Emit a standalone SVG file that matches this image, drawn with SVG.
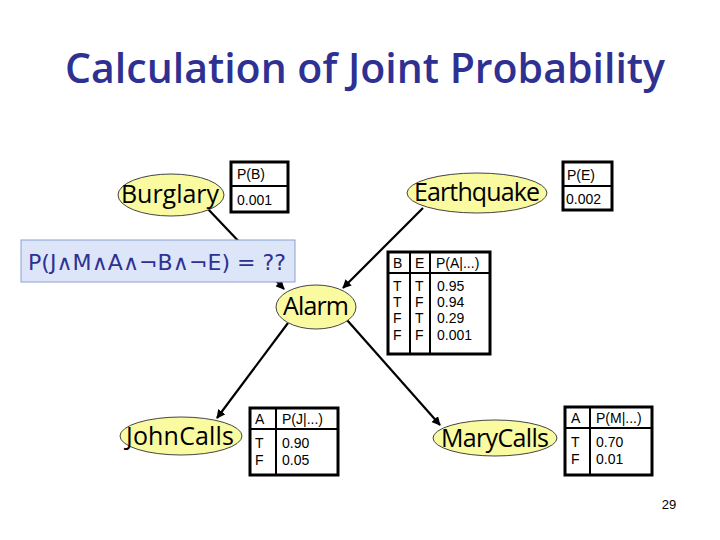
<svg xmlns="http://www.w3.org/2000/svg" width="720" height="540" viewBox="0 0 720 540">
<defs>
<marker id="ah" viewBox="0 0 10 10" refX="9" refY="5" markerWidth="4" markerHeight="4" orient="auto">
<path d="M0,0 L10,5 L0,10 z" fill="#000"/>
</marker>
<style>
.node{fill:#fafaa0;stroke:#444;stroke-width:1}
.nlab{font-family:"Open Sans","DejaVu Sans",sans-serif;font-size:25px;fill:#000;text-anchor:middle}
.tbl{fill:#fff;stroke:#000;stroke-width:3}
.ln{stroke:#000;stroke-width:2}
.tt{font-family:"Liberation Sans",Arial,sans-serif;font-size:14px;fill:#000}
.edge{stroke:#000;stroke-width:2.2;fill:none;marker-end:url(#ah)}
</style>
</defs>
<rect width="720" height="540" fill="#fff"/>
<text x="65" y="83" font-family="'Open Sans','DejaVu Sans',sans-serif" font-size="41" font-weight="600" fill="#2e3192" textLength="600" lengthAdjust="spacing">Calculation of Joint Probability</text>

<g id="connectors">
<line class="edge" x1="207" y1="208" x2="284" y2="289"/>
<line class="edge" x1="423" y1="208" x2="343" y2="288"/>
<line class="edge" x1="288" y1="323" x2="217" y2="418"/>
<line class="edge" x1="347" y1="320" x2="440" y2="425"/>
</g>

<g id="query">
<rect x="21" y="240" width="274" height="42" fill="#dde6f8" stroke="#8b9fd0" stroke-width="1"/>
<text x="28" y="270" font-family="'DejaVu Sans','Open Sans',sans-serif" font-size="21" fill="#2e3192" textLength="258" lengthAdjust="spacingAndGlyphs">P(J∧M∧A∧¬B∧¬E) = ??</text>
</g>

<g id="burglary">
<ellipse class="node" cx="171" cy="195" rx="53" ry="21"/>
<text class="nlab" x="170" y="203" textLength="98" lengthAdjust="spacing">Burglary</text>
</g>
<g id="cpt-b">
<rect class="tbl" x="231" y="162" width="57" height="50"/>
<line class="ln" x1="231" y1="186" x2="288" y2="186"/>
<text class="tt" x="237" y="179">P(B)</text>
<text class="tt" x="237" y="205">0.001</text>
</g>

<g id="earthquake">
<ellipse class="node" cx="477" cy="193" rx="70" ry="20"/>
<text class="nlab" x="477" y="201" textLength="126" lengthAdjust="spacing">Earthquake</text>
</g>
<g id="cpt-e">
<rect class="tbl" x="563" y="162" width="49" height="48"/>
<line class="ln" x1="563" y1="186" x2="612" y2="186"/>
<text class="tt" x="567" y="180">P(E)</text>
<text class="tt" x="566" y="204">0.002</text>
</g>

<g id="alarm">
<ellipse class="node" cx="316" cy="307" rx="40" ry="22"/>
<text class="nlab" x="316" y="315" textLength="66" lengthAdjust="spacing">Alarm</text>
</g>
<g id="cpt-a">
<rect class="tbl" x="388" y="252" width="102" height="102"/>
<line class="ln" x1="388" y1="273" x2="490" y2="273"/>
<line class="ln" x1="410" y1="252" x2="410" y2="354"/>
<line class="ln" x1="430" y1="252" x2="430" y2="354"/>
<text class="tt" x="393" y="268">B</text>
<text class="tt" x="415" y="268">E</text>
<text class="tt" x="436" y="268">P(A|...)</text>
<text class="tt" x="393" y="291">T</text><text class="tt" x="415" y="291">T</text><text class="tt" x="437" y="291">0.95</text>
<text class="tt" x="393" y="307">T</text><text class="tt" x="415" y="307">F</text><text class="tt" x="437" y="307">0.94</text>
<text class="tt" x="393" y="323">F</text><text class="tt" x="415" y="323">T</text><text class="tt" x="437" y="323">0.29</text>
<text class="tt" x="393" y="340">F</text><text class="tt" x="415" y="340">F</text><text class="tt" x="437" y="340">0.001</text>
</g>

<g id="johncalls">
<ellipse class="node" cx="181" cy="436" rx="61" ry="19"/>
<text class="nlab" x="180" y="445" textLength="108" lengthAdjust="spacing">JohnCalls</text>
</g>
<g id="cpt-j">
<rect class="tbl" x="250" y="408" width="88" height="67"/>
<line class="ln" x1="250" y1="429" x2="338" y2="429"/>
<line class="ln" x1="276" y1="408" x2="276" y2="475"/>
<text class="tt" x="255" y="424">A</text>
<text class="tt" x="282" y="424">P(J|...)</text>
<text class="tt" x="255" y="448">T</text><text class="tt" x="282" y="448">0.90</text>
<text class="tt" x="255" y="465">F</text><text class="tt" x="282" y="465">0.05</text>
</g>

<g id="marycalls">
<ellipse class="node" cx="495" cy="438" rx="62" ry="18"/>
<text class="nlab" x="495" y="447" textLength="108" lengthAdjust="spacing">MaryCalls</text>
</g>
<g id="cpt-m">
<rect class="tbl" x="565" y="407" width="87" height="68"/>
<line class="ln" x1="565" y1="428" x2="652" y2="428"/>
<line class="ln" x1="590" y1="407" x2="590" y2="475"/>
<text class="tt" x="571" y="423">A</text>
<text class="tt" x="596" y="423">P(M|...)</text>
<text class="tt" x="571" y="447">T</text><text class="tt" x="596" y="447">0.70</text>
<text class="tt" x="571" y="464">F</text><text class="tt" x="596" y="464">0.01</text>
</g>

<text x="669" y="509" font-family="'Liberation Sans',Arial,sans-serif" font-size="13" fill="#000" text-anchor="middle">29</text>
</svg>
